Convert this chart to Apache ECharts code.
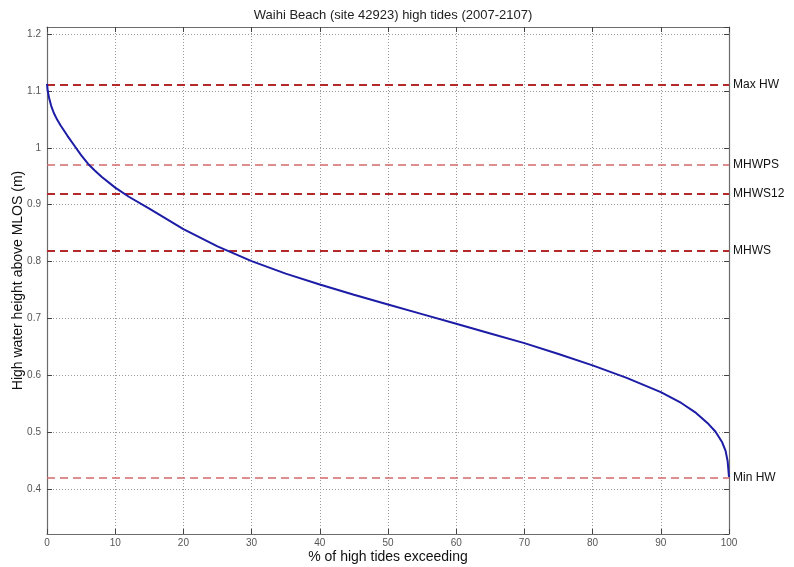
<!DOCTYPE html>
<html>
<head>
	<meta charset="utf-8">
	<script src="https://cdn.jsdelivr.net/npm/echarts@6/dist/echarts.min.js"></script>
	<title>Waihi Beach high tides</title>
	<style>body{margin:0;background:#fff;}</style>
</head>
<body>
	<div id="main" style="width: 794px;height:567px;"></div>

	<script type="text/javascript">
	    // % of high tides exceeding and height (m)
	    var pctExceed = [0, 0.1, 0.3, 0.6, 1, 1.5, 2, 3, 4, 5, 6, 7, 8, 10, 12, 15, 20, 25, 30, 35, 40, 45, 50,
	        55, 60, 65, 70, 75, 80, 85, 90, 93, 95, 97, 98, 99, 99.5, 99.8, 100];
	    var hwHeight = [1.112, 1.100, 1.088, 1.074, 1.061, 1.049, 1.039, 1.021, 1.004, 0.987, 0.972, 0.960, 0.949, 0.930, 0.914, 0.893, 0.857, 0.827, 0.801, 0.779, 0.760, 0.742, 0.725,
	        0.708, 0.691, 0.674, 0.657, 0.638, 0.618, 0.596, 0.571, 0.552, 0.536, 0.515, 0.502, 0.483, 0.468, 0.450, 0.422];

	    // tide levels drawn as dashed lines
	    var levelNames = ['Max HW', 'MHWPS', 'MHWS12', 'MHWS', 'Min HW'];
	    var levelValues = [1.114, 0.974, 0.918, 0.821, 0.422];
	    var levelDark = [true, false, true, true, false];

	    var yMin = 0.322, yMax = 1.212;

	    var curve = [];
	    for (var i = 0; i < pctExceed.length; i++) {
	        curve.push([pctExceed[i], hwHeight[i]]);
	    }

	    var levelLines = [];
	    for (var j = 0; j < levelNames.length; j++) {
	        levelLines.push({
	            name: levelNames[j],
	            yAxis: levelValues[j],
	            lineStyle: {
	                color: levelDark[j] ? '#b42a2a' : '#d46a6a',
	                width: levelDark[j] ? 2 : 1.5
	            }
	        });
	    }

	    var myChart = echarts.init(document.getElementById('main'));

	    var gridLine = { show: true, lineStyle: { color: '#9a9a9a', type: [1, 2], width: 1 } };
	    var boxLine = { show: true, onZero: false, lineStyle: { color: '#6b6b6b', width: 1.2 } };
	    var tickIn = { show: true, inside: true, length: 5, lineStyle: { color: '#444' } };
	    var tickFont = { color: '#555', fontSize: 10, fontFamily: 'Liberation Sans' };

	    var option = {
	        animation: false,
	        backgroundColor: '#fff',
	        title: {
	            text: 'Waihi Beach (site 42923) high tides (2007-2107)',
	            left: 388,
	            top: 4,
	            textAlign: 'center',
	            textStyle: { fontSize: 13, fontWeight: 'normal', color: '#222', fontFamily: 'Liberation Sans' }
	        },
	        grid: { left: 47, right: 65, top: 27, bottom: 33, outerBoundsMode: 'none', containLabel: false },
	        xAxis: [{
	            type: 'value',
	            min: 0, max: 100, interval: 10,
	            name: '% of high tides exceeding',
	            nameLocation: 'middle',
	            nameGap: 16,
	            nameMoveOverlap: false,
	            nameTextStyle: { fontSize: 14, color: '#111', fontFamily: 'Liberation Sans' },
	            axisLine: boxLine,
	            axisTick: tickIn,
	            axisLabel: Object.assign({ margin: 4 }, tickFont),
	            splitLine: gridLine
	        }, {
	            type: 'value', position: 'top',
	            min: 0, max: 100, interval: 10,
	            axisLine: boxLine,
	            axisTick: tickIn,
	            axisLabel: { show: false },
	            splitLine: { show: false }
	        }],
	        yAxis: [{
	            type: 'value',
	            min: yMin, max: yMax, splitNumber: 9,
	            name: 'High water height above MLOS (m)',
	            nameLocation: 'middle',
	            nameGap: 22,
	            nameMoveOverlap: false,
	            nameTextStyle: { fontSize: 14, color: '#111', fontFamily: 'Liberation Sans' },
	            axisLine: boxLine,
	            axisTick: tickIn,
	            axisLabel: Object.assign({ margin: 6, showMinLabel: false, showMaxLabel: false }, tickFont),
	            splitLine: gridLine
	        }, {
	            type: 'value', position: 'right',
	            min: yMin, max: yMax, splitNumber: 9,
	            axisLine: boxLine,
	            axisTick: tickIn,
	            axisLabel: { show: false },
	            splitLine: { show: false }
	        }],
	        series: [{
	            type: 'line',
	            data: curve,
	            showSymbol: false,
	            z: 3,
	            lineStyle: { color: '#1c1ca6', width: 2 },
	            markLine: {
	                silent: true,
	                symbol: ['none', 'none'],
	                z: 2,
	                lineStyle: { type: [8, 5] },
	                label: {
	                    position: 'end',
	                    formatter: '{b}',
	                    distance: 4,
	                    color: '#111',
	                    fontSize: 12,
	                    fontFamily: 'Liberation Sans'
	                },
	                data: levelLines
	            }
	        }]
	    };

	    myChart.setOption(option);
    </script>
</body>
</html>
